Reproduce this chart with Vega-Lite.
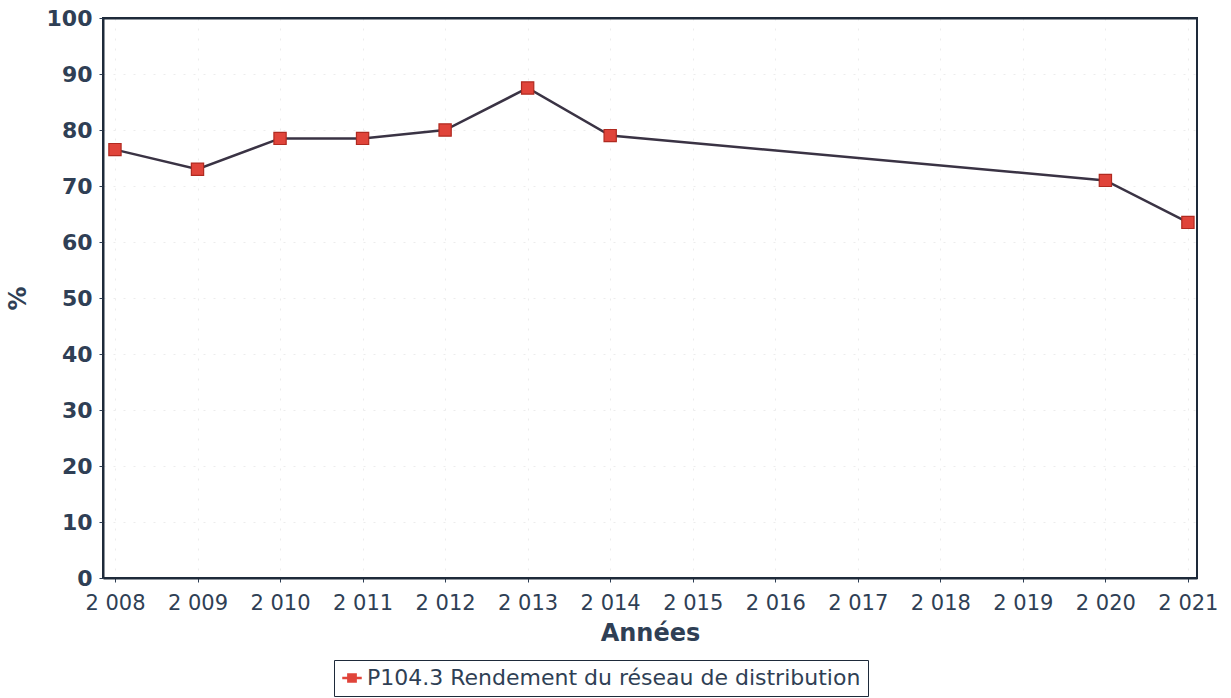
{
  "$schema": "https://vega.github.io/schema/vega-lite/v6.json",
  "width": 1094,
  "height": 560,
  "autosize": {"type": "none"},
  "padding": {"left": 103, "top": 18, "right": 34, "bottom": 120},
  "background": "white",
  "config": {
    "font": "DejaVu Sans",
    "view": {"stroke": "#1e2a3a", "strokeWidth": 2}
  },
  "data": {
    "values": [
      {"annee": 2008, "valeur": 76.5, "serie": "P104.3 Rendement du réseau de distribution"},
      {"annee": 2009, "valeur": 73, "serie": "P104.3 Rendement du réseau de distribution"},
      {"annee": 2010, "valeur": 78.5, "serie": "P104.3 Rendement du réseau de distribution"},
      {"annee": 2011, "valeur": 78.5, "serie": "P104.3 Rendement du réseau de distribution"},
      {"annee": 2012, "valeur": 80, "serie": "P104.3 Rendement du réseau de distribution"},
      {"annee": 2013, "valeur": 87.5, "serie": "P104.3 Rendement du réseau de distribution"},
      {"annee": 2014, "valeur": 79, "serie": "P104.3 Rendement du réseau de distribution"},
      {"annee": 2020, "valeur": 71, "serie": "P104.3 Rendement du réseau de distribution"},
      {"annee": 2021, "valeur": 63.5, "serie": "P104.3 Rendement du réseau de distribution"}
    ]
  },
  "encoding": {
    "x": {
      "field": "annee",
      "type": "quantitative",
      "scale": {"domain": [2007.855, 2021.11], "nice": false, "zero": false},
      "axis": {
        "title": "Années",
        "titleFontSize": 24,
        "titleFontWeight": "bold",
        "titleColor": "#2f3f55",
        "titlePadding": 8,
        "values": [2008, 2009, 2010, 2011, 2012, 2013, 2014, 2015, 2016, 2017, 2018, 2019, 2020, 2021],
        "labelExpr": "substring(toString(datum.value), 0, 1) + ' ' + substring(toString(datum.value), 1)",
        "labelFontSize": 21,
        "labelColor": "#2f3f55",
        "labelPadding": 10,
        "labelFlush": false,
        "labelOverlap": false,
        "tickColor": "#2f3f55",
        "tickSize": 4,
        "domainColor": "#1e2a3a",
        "domainWidth": 2,
        "grid": true,
        "gridColor": "#ececec",
        "gridDash": [2, 8]
      }
    },
    "y": {
      "field": "valeur",
      "type": "quantitative",
      "scale": {"domain": [0, 100], "nice": false},
      "axis": {
        "title": "%",
        "titleFontSize": 24,
        "titleFontWeight": "bold",
        "titleColor": "#2f3f55",
        "titlePadding": 16,
        "values": [0, 10, 20, 30, 40, 50, 60, 70, 80, 90, 100],
        "labelFontSize": 22,
        "labelFontWeight": "bold",
        "labelColor": "#2f3f55",
        "labelPadding": 7,
        "labelFlush": false,
        "tickColor": "#2f3f55",
        "tickSize": 4,
        "domainColor": "#1e2a3a",
        "domainWidth": 2,
        "grid": true,
        "gridColor": {"condition": {"test": "datum.value == 100", "value": "#1e2a3a"}, "value": "#ececec"},
        "gridDash": {"condition": {"test": "datum.value == 100", "value": []}, "value": [2, 8]},
        "gridWidth": {"condition": {"test": "datum.value == 100", "value": 2}, "value": 1}
      }
    }
  },
  "layer": [
    {
      "mark": {"type": "line", "color": "#3a3344", "strokeWidth": 2.5},
      "encoding": {}
    },
    {
      "mark": {"type": "point", "shape": "square", "filled": true, "size": 150, "stroke": "#b02a20", "strokeWidth": 1.2, "opacity": 1},
      "encoding": {
        "color": {
          "field": "serie",
          "type": "nominal",
          "scale": {"range": ["#e0443a"]},
          "legend": {
            "title": null,
            "orient": "none",
            "legendX": 231,
            "legendY": 642,
            "direction": "horizontal",
            "labelFontSize": 22,
            "labelColor": "#2f3f55",
            "labelLimit": 800,
            "symbolType": "M-1,-0.12H1V0.12H-1Z M-0.5,-0.5H0.5V0.5H-0.5Z",
            "symbolSize": 380,
            "symbolStrokeWidth": 0,
            "strokeColor": "#1e2a3a",
            "padding": 7,
            "fillColor": "white"
          }
        }
      }
    }
  ]
}
